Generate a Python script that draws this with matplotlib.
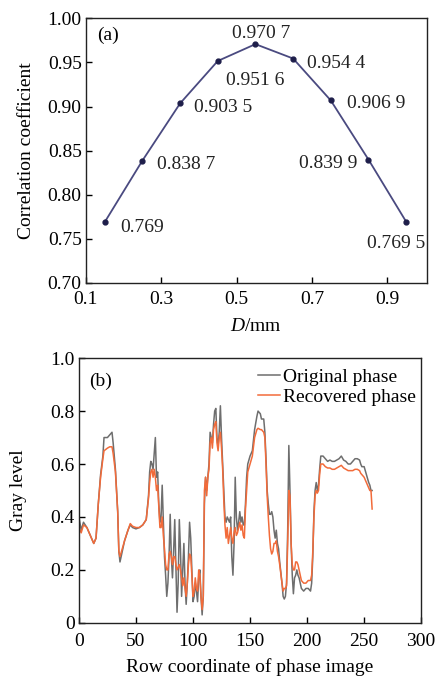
import matplotlib
matplotlib.use("Agg")
import matplotlib.pyplot as plt

plt.rcParams['font.family'] = ['Liberation Serif', 'DejaVu Serif']
plt.rcParams['mathtext.fontset'] = 'custom'
plt.rcParams['mathtext.it'] = 'Liberation Serif:italic'
plt.rcParams['mathtext.rm'] = 'Liberation Serif'

# ---- Panel (a) data ----
d_mm = [0.15, 0.25, 0.35, 0.45, 0.55, 0.65, 0.75, 0.85, 0.95]
corr = [0.769, 0.8387, 0.9035, 0.9516, 0.9707, 0.9544, 0.9069, 0.8399, 0.7695]
corr_labels = ["0.769", "0.838 7", "0.903 5", "0.951 6", "0.970 7",
               "0.954 4", "0.906 9", "0.839 9", "0.769 5"]
label_x = [0.19, 0.289, 0.387, 0.472, 0.488, 0.687, 0.793, 0.666, 0.846]
label_y = [0.763, 0.834, 0.899, 0.930, 0.983, 0.949, 0.903, 0.835, 0.745]

# ---- Panel (b) data ----
row = [0, 2, 4, 7, 10, 13, 15, 17, 19, 21, 22, 25, 27, 29, 30, 32, 34, 35, 36, 38,
       40, 43, 45, 47, 50, 53, 56, 59, 61, 62, 63, 64, 65, 66, 67, 68, 69, 70, 71, 72,
       73, 74, 75, 76, 77, 78, 79, 80, 81, 82, 83, 84, 85, 86, 87, 88, 89, 90, 91, 92,
       93, 94, 95, 96, 97, 98, 99, 100, 101, 102, 103, 104, 105, 106, 107, 108, 109, 110, 111, 112,
       113, 114, 115, 116, 117, 118, 119, 120, 121, 122, 123, 124, 125, 126, 127, 128, 129, 130, 131, 132,
       133, 134, 135, 136, 137, 138, 139, 140, 141, 142, 143, 144, 145, 146, 147, 148, 150, 152, 154, 156,
       157, 159, 160, 162, 163, 164, 165, 166, 167, 168, 169, 170, 171, 172, 173, 174, 175, 176, 178, 179,
       180, 181, 182, 183, 184, 185, 186, 187, 188, 189, 190, 191, 192, 193, 195, 197, 199, 201, 203, 204,
       205, 206, 207, 208, 209, 210, 211, 212, 214, 216, 218, 220, 222, 224, 226, 228, 230, 232, 234, 236,
       238, 240, 242, 244, 246, 247, 248, 250, 252, 254, 255, 256, 257]
original = [0.40, 0.35, 0.38, 0.36, 0.33, 0.30, 0.32, 0.45, 0.56, 0.63, 0.70, 0.70, 0.71, 0.72, 0.68, 0.58, 0.42, 0.27, 0.23, 0.27,
            0.31, 0.35, 0.37, 0.36, 0.355, 0.36, 0.37, 0.39, 0.48, 0.57, 0.61, 0.60, 0.58, 0.64, 0.70, 0.55, 0.57, 0.45, 0.38, 0.40,
            0.52, 0.38, 0.25, 0.18, 0.10, 0.15, 0.25, 0.41, 0.25, 0.17, 0.27, 0.39, 0.22, 0.04, 0.15, 0.39, 0.28, 0.10, 0.20, 0.30,
            0.15, 0.07, 0.15, 0.25, 0.38, 0.32, 0.20, 0.08, 0.10, 0.15, 0.12, 0.08, 0.17, 0.20, 0.10, 0.03, 0.10, 0.45, 0.55, 0.50,
            0.55, 0.60, 0.72, 0.70, 0.68, 0.75, 0.80, 0.81, 0.70, 0.67, 0.72, 0.82, 0.70, 0.60, 0.50, 0.40, 0.38, 0.40, 0.39, 0.38,
            0.40, 0.25, 0.18, 0.30, 0.55, 0.40, 0.35, 0.38, 0.42, 0.38, 0.40, 0.37, 0.37, 0.45, 0.55, 0.60, 0.63, 0.65, 0.73, 0.78,
            0.80, 0.79, 0.77, 0.77, 0.72, 0.62, 0.50, 0.45, 0.41, 0.41, 0.42, 0.40, 0.35, 0.32, 0.35, 0.30, 0.28, 0.23, 0.15, 0.10,
            0.09, 0.10, 0.15, 0.35, 0.67, 0.50, 0.30, 0.18, 0.11, 0.17, 0.18, 0.20, 0.18, 0.17, 0.13, 0.12, 0.13, 0.13, 0.12, 0.15,
            0.25, 0.42, 0.50, 0.53, 0.50, 0.52, 0.58, 0.63, 0.63, 0.62, 0.61, 0.615, 0.61, 0.61, 0.615, 0.62, 0.63, 0.615, 0.61, 0.60,
            0.60, 0.61, 0.62, 0.62, 0.615, 0.60, 0.59, 0.59, 0.56, 0.53, 0.52, 0.50, 0.50]
recovered = [0.36, 0.34, 0.37, 0.36, 0.33, 0.30, 0.32, 0.45, 0.55, 0.62, 0.65, 0.66, 0.665, 0.665, 0.64, 0.57, 0.42, 0.27, 0.25, 0.28,
             0.31, 0.35, 0.375, 0.365, 0.36, 0.36, 0.37, 0.39, 0.47, 0.53, 0.57, 0.58, 0.55, 0.58, 0.55, 0.50, 0.52, 0.44, 0.36, 0.36,
             0.40, 0.33, 0.28, 0.22, 0.20, 0.20, 0.26, 0.27, 0.25, 0.22, 0.25, 0.25, 0.22, 0.20, 0.21, 0.22, 0.20, 0.17, 0.14, 0.17,
             0.13, 0.10, 0.15, 0.22, 0.26, 0.25, 0.18, 0.10, 0.12, 0.17, 0.13, 0.12, 0.20, 0.18, 0.10, 0.05, 0.10, 0.50, 0.55, 0.48,
             0.55, 0.58, 0.68, 0.70, 0.66, 0.73, 0.75, 0.76, 0.68, 0.65, 0.70, 0.72, 0.66, 0.58, 0.46, 0.37, 0.32, 0.36, 0.30, 0.33,
             0.36, 0.32, 0.30, 0.34, 0.36, 0.33, 0.34, 0.36, 0.38, 0.35, 0.37, 0.33, 0.32, 0.43, 0.50, 0.57, 0.60, 0.63, 0.70, 0.73,
             0.735, 0.73, 0.73, 0.72, 0.70, 0.60, 0.48, 0.40, 0.33, 0.28, 0.26, 0.27, 0.30, 0.30, 0.31, 0.27, 0.25, 0.22, 0.15, 0.12,
             0.13, 0.13, 0.14, 0.30, 0.50, 0.48, 0.30, 0.22, 0.20, 0.20, 0.23, 0.23, 0.22, 0.20, 0.16, 0.15, 0.15, 0.16, 0.16, 0.18,
             0.27, 0.40, 0.48, 0.50, 0.49, 0.50, 0.56, 0.60, 0.60, 0.59, 0.585, 0.585, 0.58, 0.58, 0.585, 0.59, 0.595, 0.585, 0.58, 0.575,
             0.575, 0.575, 0.58, 0.58, 0.575, 0.565, 0.56, 0.55, 0.53, 0.51, 0.50, 0.50, 0.43]

FS = 14

fig = plt.figure(figsize=(4.36, 6.77), dpi=100)

# ---------- Panel (a) ----------
ax1 = fig.add_axes([0.197, 0.582, 0.782, 0.391])
ax1.plot(d_mm, corr, color='#4a4a80', lw=1.3, marker='o', ms=3.5,
         markerfacecolor='#1e1e4a', markeredgecolor='#1e1e4a')
for lx, ly, txt in zip(label_x, label_y, corr_labels):
    ax1.text(lx, ly, txt, fontsize=FS, ha='left', va='center', color='#222222')
ax1.set_xlim(0.1, 1.005)
ax1.set_ylim(0.70, 1.00)
ax1.set_xticks([0.1, 0.3, 0.5, 0.7, 0.9])
ax1.set_xticklabels(["0.1", "0.3", "0.5", "0.7", "0.9"])
ax1.set_yticks([0.70, 0.75, 0.80, 0.85, 0.90, 0.95, 1.00])
ax1.set_yticklabels(["0.70", "0.75", "0.80", "0.85", "0.90", "0.95", "1.00"])
ax1.set_xlabel(r"$\mathit{D}$/mm", fontsize=FS, labelpad=7)
ax1.set_ylabel("Correlation coefficient", fontsize=FS, labelpad=9)
ax1.text(0.032, 0.936, "(a)", transform=ax1.transAxes, fontsize=FS, ha='left', va='center')

# ---------- Panel (b) ----------
ax2 = fig.add_axes([0.181, 0.080, 0.785, 0.391])
ax2.plot(row, original, color='#6e6e6e', lw=1.1, label='Original phase')
ax2.plot(row, recovered, color='#f26b3a', lw=1.1, label='Recovered phase')
ax2.set_xlim(0, 300)
ax2.set_ylim(0, 1.0)
ax2.set_xticks([0, 50, 100, 150, 200, 250, 300])
ax2.set_yticks([0, 0.2, 0.4, 0.6, 0.8, 1.0])
ax2.set_yticklabels(["0", "0.2", "0.4", "0.6", "0.8", "1.0"])
ax2.set_xlabel("Row coordinate of phase image", fontsize=FS, labelpad=6)
ax2.set_ylabel("Gray level", fontsize=FS, labelpad=17)
ax2.text(0.03, 0.913, "(b)", transform=ax2.transAxes, fontsize=FS, ha='left', va='center')
ax2.legend(loc='upper right', bbox_to_anchor=(0.995, 0.975), frameon=False, fontsize=FS,
           handlelength=1.1, handletextpad=0.15, borderaxespad=0.0, borderpad=0.2,
           labelspacing=0.1)

for ax in (ax1, ax2):
    ax.tick_params(direction='in', length=4, width=1, labelsize=FS, top=False, right=False)
    ax.tick_params(axis='y', pad=3)
    for s in ax.spines.values():
        s.set_linewidth(1.0)
        s.set_color('#222222')
ax1.tick_params(axis='x', pad=6)
ax2.tick_params(axis='x', pad=7.5)

fig.savefig("out.png", dpi=100)
